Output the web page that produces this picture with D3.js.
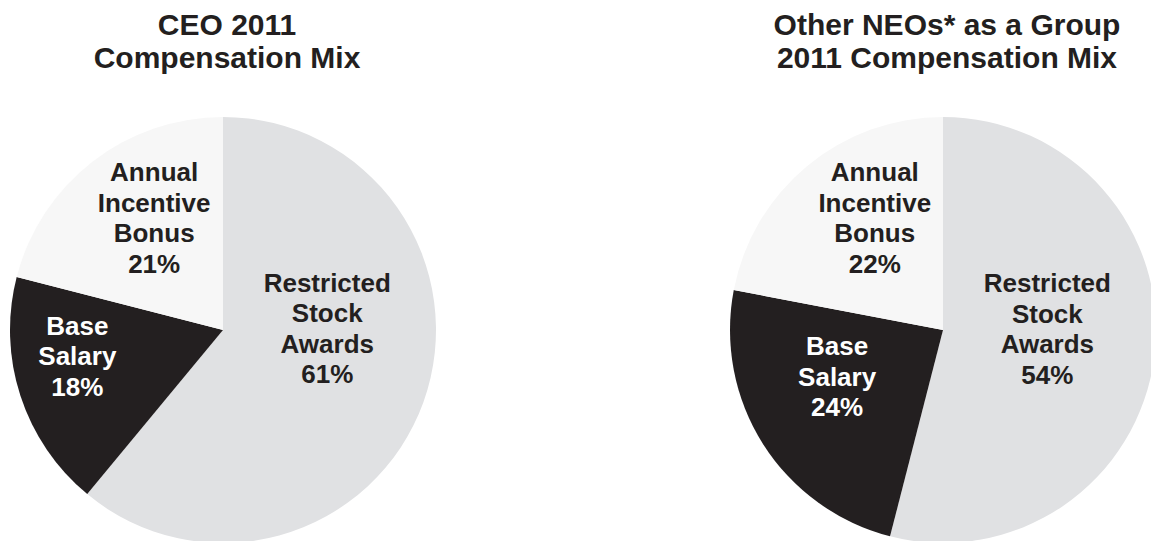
<!DOCTYPE html>
<html>
<head>
<meta charset="utf-8">
<script src="https://cdn.jsdelivr.net/npm/d3@7"></script>
<style>
  body { margin: 0; background: #ffffff; }
  text { font-family: "Liberation Sans", Arial, sans-serif; font-weight: bold; }
</style>
</head>
<body>
<div id="chart"></div>
<script>
// Chart data
const categories = ["Restricted Stock Awards", "Base Salary", "Annual Incentive Bonus"];
const categoryLines = [["Restricted", "Stock", "Awards"], ["Base", "Salary"], ["Annual", "Incentive", "Bonus"]];
const ceoValues = [61, 18, 21];
const neoValues = [54, 24, 22];
const chartTitles = [["CEO 2011", "Compensation Mix"], ["Other NEOs* as a Group", "2011 Compensation Mix"]];

// Layout
const width = 1151, height = 541;
const radius = 213;
const centers = [{ x: 223, y: 330 }, { x: 943, y: 330 }];
const fills = ["#e0e1e3", "#231f20", "#f7f7f7"];
const textFills = ["#231f20", "#ffffff", "#231f20"];
// label nudges from the arc centroid, per pie and slice
const labelNudges = [
  [[-26, -48], [-14, -16], [16, -2]],
  [[-33, -18], [11, -27], [20, -5]]
];
const labelSize = 26, labelLine = 30.5;
const titleSize = 30, titleLine = 33;

const svg = d3.select("#chart")
  .append("svg")
  .attr("width", width)
  .attr("height", height);

const pie = d3.pie().sort(null).value((d) => d);
const arc = d3.arc().innerRadius(0).outerRadius(radius);
const labelArc = d3.arc().innerRadius(radius * 0.65).outerRadius(radius * 0.65);

[ceoValues, neoValues].forEach((values, p) => {
  const c = centers[p];

  // Title
  svg.append("text")
    .attr("x", c.x + 4)
    .attr("text-anchor", "middle")
    .attr("font-size", titleSize)
    .attr("fill", "#231f20")
    .selectAll("tspan")
    .data(chartTitles[p])
    .enter()
    .append("tspan")
    .attr("x", c.x + 4)
    .attr("y", (d, i) => 35 + i * titleLine)
    .text((d) => d);

  const g = svg.append("g")
    .attr("transform", `translate(${c.x},${c.y})`);

  const arcs = pie(values);

  g.selectAll(".slice")
    .data(arcs)
    .enter()
    .append("path")
    .attr("class", "slice")
    .attr("d", arc)
    .attr("fill", (d, i) => fills[i]);

  // Labels
  arcs.forEach((d, i) => {
    const [cx, cy] = labelArc.centroid(d);
    const x = cx + labelNudges[p][i][0];
    const y = cy + labelNudges[p][i][1];
    const lines = categoryLines[i].concat([d.data + "%"]);
    const firstBase = y - (lines.length - 1) * labelLine / 2 + 17 / 2;
    g.append("text")
      .attr("text-anchor", "middle")
      .attr("font-size", labelSize)
      .attr("fill", textFills[i])
      .selectAll("tspan")
      .data(lines)
      .enter()
      .append("tspan")
      .attr("x", x)
      .attr("y", (t, k) => firstBase + k * labelLine)
      .text((t) => t);
  });
});
</script>
</body>
</html>
